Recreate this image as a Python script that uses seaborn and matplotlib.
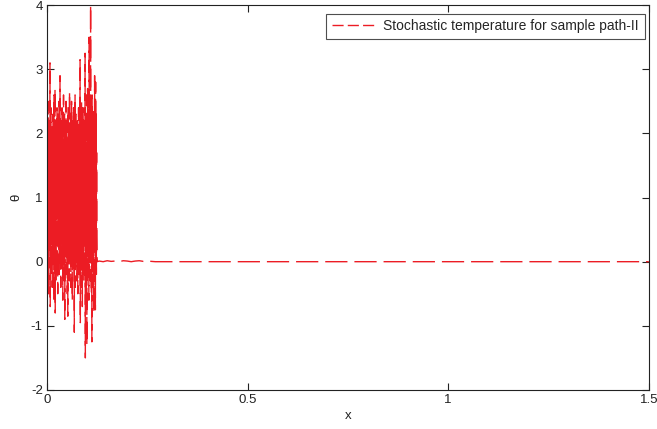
import numpy as np
import pandas as pd
import matplotlib
matplotlib.use("Agg")
import matplotlib.pyplot as plt
import seaborn as sns

# Sample path of the stochastic temperature: strongly fluctuating start,
# a short damped stretch, then settled at zero.
burst_start, burst_end = 0.0, 0.125
burst_theta = [
    1.0, 2.3, -0.3, 1.9, 0.6, 2.5, -0.5, 1.7, 0.2, 2.2, 0.8, 1.5, 3.1, -0.7, 2.0, 0.1, 2.4, -0.2, 1.8, 0.5,
    2.1, -0.4, 1.6, 0.9, 2.3, 0.0, 1.9, -0.6, 2.6, 0.3, 1.4, -0.1, 2.7, -0.8, 2.0, 0.4, 2.2, -0.3, 1.7, 0.7,
    2.4, 0.0, 1.8, -0.5, 2.3, 0.6, 1.5, 0.2, 2.5, -0.2, 2.0, 0.5, 2.9, 0.1, 1.6, -0.4, 2.2, 0.8, 1.9, -0.1,
    2.4, 0.3, 1.7, -0.6, 2.1, 0.5, 2.6, 0.0, 1.5, -0.3, 2.3, -0.9, 1.8, 0.4, 2.0, 0.7, 2.5, -0.2, 1.6, 0.3,
    2.2, -0.5, 1.9, -0.85, 2.4, 0.6, 1.7, 0.1, 2.1, -0.3, 2.65, 0.2, 1.8, 0.5, 2.3, -0.4, 2.0, 0.8, 2.5, 0.0,
    1.6, -0.6, 2.2, 0.3, 1.9, -0.1, 2.4, 0.6, 1.7, -1.1, 2.1, 0.2, 2.6, -0.4, 1.8, 0.5, 2.3, 0.0, 2.0, -0.3,
    1.5, 0.7, 2.2, -0.5, 1.9, 0.4, 2.4, 0.1, 2.0, -0.2, 1.7, 0.6, 3.15, -0.95, 2.3, 0.3, 1.8, -0.4, 2.5, 0.2,
    2.1, -0.7, 1.9, 0.5, 2.4, 0.0, 2.2, -0.3, 1.6, 0.4, 2.0, 0.8, 3.25, -1.5, 2.3, 0.1, 1.8, -0.5, 2.6, -1.3,
    2.2, 0.3, 2.7, -0.2, 1.9, 0.6, 2.4, -0.6, 3.5, 0.0, 2.1, 0.4, 2.5, -0.3, 4.0, 0.2, 2.3, -0.5, 1.9, -1.25,
    2.6, 0.1, 2.2, -0.4, 1.8, 0.6, 2.4, -0.8, 2.0, 0.3, 2.9, 0.5, 2.1, -0.75, 2.8, 0.2, 2.3, -0.2, 1.7, 0.4,
    0.0,
]
tail_x = [0.13, 0.14, 0.15, 0.16, 0.17, 0.18, 0.19, 0.20, 0.21, 0.22,
          0.23, 0.24, 0.25, 0.26, 0.27, 1.5]
tail_theta = [0.01, 0.0, 0.015, 0.005, 0.01, 0.0, 0.015, 0.01, 0.0, 0.01,
              0.015, 0.005, 0.01, 0.005, 0.0, 0.0]

x_ticks = [0, 0.5, 1, 1.5]
x_tick_labels = ["0", "0.5", "1", "1.5"]
y_ticks = [-2, -1, 0, 1, 2, 3, 4]

burst_x = np.linspace(burst_start, burst_end, len(burst_theta))
df = pd.DataFrame({
    "x": np.concatenate([burst_x, tail_x]),
    "theta": np.concatenate([burst_theta, tail_theta]),
})

sns.set_theme(style="white")
plt.rcParams["font.family"] = ["Liberation Sans", "DejaVu Sans"]
plt.rcParams["axes.unicode_minus"] = False

fig = plt.figure(figsize=(6.57, 4.29), dpi=100)
ax = fig.add_axes([0.0715, 0.091, 0.916, 0.897])

sns.lineplot(data=df, x="x", y="theta", sort=False, estimator=None, ax=ax,
             color="#ec1c24", linewidth=1.0, dashes=False,
             label="Stochastic temperature for sample path-II")
ax.lines[0].set_dashes((16, 5))
ax.lines[0].set_solid_joinstyle("miter")

ax.set_xlim(0, 1.5)
ax.set_ylim(-2, 4)
ax.set_xticks(x_ticks)
ax.set_xticklabels(x_tick_labels)
ax.set_yticks(y_ticks)
ax.tick_params(direction="in", length=5, width=0.8, colors="#222222",
               labelsize=9.5, top=True, right=True, bottom=True, left=True,
               pad=3)
for lab in ax.get_xticklabels() + ax.get_yticklabels():
    lab.set_color("#222222")
for sp in ax.spines.values():
    sp.set_visible(True)
    sp.set_color("#222222")
    sp.set_linewidth(0.8)

ax.set_xlabel("x", fontsize=9.5, color="#222222", labelpad=3)
ax.set_ylabel("θ", fontsize=9.5, color="#222222", labelpad=6)

leg = ax.legend(loc="upper right", bbox_to_anchor=(0.993, 0.978),
                fontsize=10, frameon=True, fancybox=False,
                handlelength=3.2, borderpad=0.4, handletextpad=0.5,
                borderaxespad=0)
leg.get_frame().set_edgecolor("#222222")
leg.get_frame().set_linewidth(0.8)
leg.get_lines()[0].set_dashes((8, 3))

fig.savefig("out.png", dpi=100)
